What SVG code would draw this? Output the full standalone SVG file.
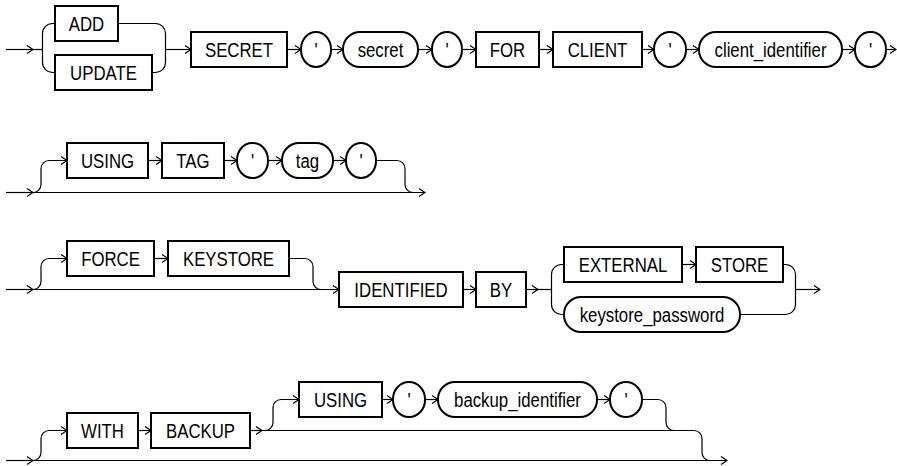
<svg xmlns="http://www.w3.org/2000/svg" width="897" height="466" viewBox="0 0 897 466">
<defs>
<marker id="arr" viewBox="0 0 8 10" markerWidth="8" markerHeight="10" refX="7" refY="5" orient="auto" markerUnits="userSpaceOnUse">
<path d="M1,1 L7,5 L1,9" fill="none" stroke="#000" stroke-width="1.2"/>
</marker>
</defs>
<style>
.k{fill:#fff;stroke:#000;stroke-width:2}
.t{font-family:"Liberation Sans",Arial,Helvetica,sans-serif;font-size:21px;fill:#000;text-anchor:middle}
.c{fill:none;stroke:#000;stroke-width:1.2}
.a{marker-end:url(#arr)}
</style>
<rect width="897" height="466" fill="#fff"/>
<g id="connectors">
<!-- row 1 -->
<path class="c a" d="M6,49.5 H33"/>
<path class="c" d="M33,49.5 H42.5"/>
<path class="c" d="M55,23.5 H52.5 A10,10 0 0 0 42.5,33.5 V62.5 A10,10 0 0 0 52.5,72.5 H55"/>
<path class="c" d="M118,23.5 H155.5 A10,10 0 0 1 165.5,33.5 V62.5 A10,10 0 0 1 155.5,72.5 H152"/>
<path class="c a" d="M165.5,49.5 H191"/>
<path class="c a" d="M287,49.5 H301"/>
<path class="c a" d="M331,49.5 H343"/>
<path class="c a" d="M418,49.5 H432"/>
<path class="c a" d="M462,49.5 H476"/>
<path class="c a" d="M539,49.5 H553"/>
<path class="c a" d="M642,49.5 H654"/>
<path class="c a" d="M686,49.5 H699"/>
<path class="c a" d="M842,49.5 H855"/>
<path class="c a" d="M886,49.5 H896"/>
<!-- row 2 -->
<path class="c a" d="M6,192.5 H33"/>
<path class="c a" d="M33,192.5 H425"/>
<path class="c a" d="M33,192.5 A8,8 0 0 0 41,184.5 V168.5 A8,8 0 0 1 49,160.5 H67"/>
<path class="c a" d="M148,160.5 H162"/>
<path class="c a" d="M224,160.5 H237"/>
<path class="c a" d="M268,160.5 H282"/>
<path class="c a" d="M333,160.5 H346"/>
<path class="c" d="M376,160.5 H397 A8,8 0 0 1 405,168.5 V184.5 A8,8 0 0 0 413,192.5"/>
<!-- row 3 -->
<path class="c a" d="M6,289.5 H33"/>
<path class="c a" d="M33,289.5 H339"/>
<path class="c a" d="M33,289.5 A8,8 0 0 0 41,281.5 V266.5 A8,8 0 0 1 49,258.5 H67"/>
<path class="c a" d="M154,258.5 H168"/>
<path class="c" d="M289,258.5 H305 A8,8 0 0 1 313,266.5 V281.5 A8,8 0 0 0 321,289.5"/>
<path class="c a" d="M463,289.5 H476"/>
<path class="c a" d="M526,289.5 H538"/>
<path class="c" d="M538,289.5 H551.5"/>
<path class="c" d="M564,264.5 H561.5 A10,10 0 0 0 551.5,274.5 V304.5 A10,10 0 0 0 561.5,314.5 H564"/>
<path class="c a" d="M682,264.5 H696"/>
<path class="c" d="M783,264.5 H785.5 A10,10 0 0 1 795.5,274.5 V304.5 A10,10 0 0 1 785.5,314.5 H740"/>
<path class="c a" d="M795.5,289.5 H820"/>
<!-- row 4 -->
<path class="c a" d="M6,460.5 H33"/>
<path class="c a" d="M33,460.5 H727"/>
<path class="c a" d="M33,460.5 A8,8 0 0 0 41,452.5 V438.5 A8,8 0 0 1 49,430.5 H67"/>
<path class="c a" d="M138,430.5 H151"/>
<path class="c a" d="M250,430.5 H262"/>
<path class="c" d="M262,430.5 H694"/>
<path class="c a" d="M265,430.5 A8,8 0 0 0 273,422.5 V407.5 A8,8 0 0 1 281,399.5 H299"/>
<path class="c a" d="M382,399.5 H393"/>
<path class="c a" d="M425,399.5 H438"/>
<path class="c a" d="M597,399.5 H610"/>
<path class="c" d="M642,399.5 H658 A8,8 0 0 1 666,407.5 V422.5 A8,8 0 0 0 674,430.5"/>
<path class="c" d="M694,430.5 A8,8 0 0 1 702,438.5 V452.5 A8,8 0 0 0 710,460.5"/>
</g>
<!-- row 1 nodes -->
<g id="add"><rect class="k" x="55" y="6" width="63" height="35"/><text class="t" transform="translate(86.5,31) scale(.8,1)">ADD</text></g>
<g id="update"><rect class="k" x="55" y="55" width="97" height="35"/><text class="t" transform="translate(103.5,80) scale(.8,1)">UPDATE</text></g>
<g id="secret_kw"><rect class="k" x="191" y="32" width="96" height="35"/><text class="t" transform="translate(239,57) scale(.8,1)">SECRET</text></g>
<g id="q1"><rect class="k" x="301" y="32" width="30" height="35" rx="15" ry="17"/><text class="t" transform="translate(316,57) scale(.8,1)">'</text></g>
<g id="secret"><rect class="k" x="343" y="32" width="75" height="35" rx="17" ry="17"/><text class="t" transform="translate(380.5,57) scale(.8,1)">secret</text></g>
<g id="q2"><rect class="k" x="432" y="32" width="30" height="35" rx="15" ry="17"/><text class="t" transform="translate(447,57) scale(.8,1)">'</text></g>
<g id="for"><rect class="k" x="476" y="32" width="63" height="35"/><text class="t" transform="translate(507.5,57) scale(.8,1)">FOR</text></g>
<g id="client"><rect class="k" x="553" y="32" width="89" height="35"/><text class="t" transform="translate(597.5,57) scale(.8,1)">CLIENT</text></g>
<g id="q3"><rect class="k" x="654" y="32" width="32" height="35" rx="16" ry="17"/><text class="t" transform="translate(670,57) scale(.8,1)">'</text></g>
<g id="client_identifier"><rect class="k" x="699" y="32" width="143" height="35" rx="17" ry="17"/><text class="t" transform="translate(770.5,57) scale(.8,1)">client_identifier</text></g>
<g id="q4"><rect class="k" x="855" y="32" width="31" height="35" rx="15" ry="17"/><text class="t" transform="translate(870.5,57) scale(.8,1)">'</text></g>
<!-- row 2 nodes -->
<g id="using1"><rect class="k" x="67" y="143" width="81" height="35"/><text class="t" transform="translate(107.5,168) scale(.8,1)">USING</text></g>
<g id="tag_kw"><rect class="k" x="162" y="143" width="62" height="35"/><text class="t" transform="translate(193,168) scale(.8,1)">TAG</text></g>
<g id="q5"><rect class="k" x="237" y="143" width="31" height="35" rx="15" ry="17"/><text class="t" transform="translate(252.5,168) scale(.8,1)">'</text></g>
<g id="tag"><rect class="k" x="282" y="143" width="51" height="35" rx="17" ry="17"/><text class="t" transform="translate(307.5,168) scale(.8,1)">tag</text></g>
<g id="q6"><rect class="k" x="346" y="143" width="30" height="35" rx="15" ry="17"/><text class="t" transform="translate(361,168) scale(.8,1)">'</text></g>
<!-- row 3 nodes -->
<g id="force"><rect class="k" x="67" y="241" width="87" height="35"/><text class="t" transform="translate(110.5,266) scale(.8,1)">FORCE</text></g>
<g id="keystore"><rect class="k" x="168" y="241" width="121" height="35"/><text class="t" transform="translate(228.5,266) scale(.8,1)">KEYSTORE</text></g>
<g id="identified"><rect class="k" x="339" y="272" width="124" height="35"/><text class="t" transform="translate(401,297) scale(.8,1)">IDENTIFIED</text></g>
<g id="by"><rect class="k" x="476" y="272" width="50" height="35"/><text class="t" transform="translate(501,297) scale(.8,1)">BY</text></g>
<g id="external"><rect class="k" x="564" y="247" width="118" height="35"/><text class="t" transform="translate(623,272) scale(.8,1)">EXTERNAL</text></g>
<g id="store"><rect class="k" x="696" y="247" width="87" height="35"/><text class="t" transform="translate(739.5,272) scale(.8,1)">STORE</text></g>
<g id="keystore_password"><rect class="k" x="564" y="297" width="176" height="35" rx="17" ry="17"/><text class="t" transform="translate(652,322) scale(.8,1)">keystore_password</text></g>
<!-- row 4 nodes -->
<g id="with"><rect class="k" x="67" y="413" width="71" height="35"/><text class="t" transform="translate(102.5,438) scale(.8,1)">WITH</text></g>
<g id="backup"><rect class="k" x="151" y="413" width="99" height="35"/><text class="t" transform="translate(200.5,438) scale(.8,1)">BACKUP</text></g>
<g id="using2"><rect class="k" x="299" y="382" width="83" height="35"/><text class="t" transform="translate(340.5,407) scale(.8,1)">USING</text></g>
<g id="q7"><rect class="k" x="393" y="382" width="32" height="35" rx="16" ry="17"/><text class="t" transform="translate(409,407) scale(.8,1)">'</text></g>
<g id="backup_identifier"><rect class="k" x="438" y="382" width="159" height="35" rx="17" ry="17"/><text class="t" transform="translate(517.5,407) scale(.8,1)">backup_identifier</text></g>
<g id="q8"><rect class="k" x="610" y="382" width="32" height="35" rx="16" ry="17"/><text class="t" transform="translate(626,407) scale(.8,1)">'</text></g>
</svg>
